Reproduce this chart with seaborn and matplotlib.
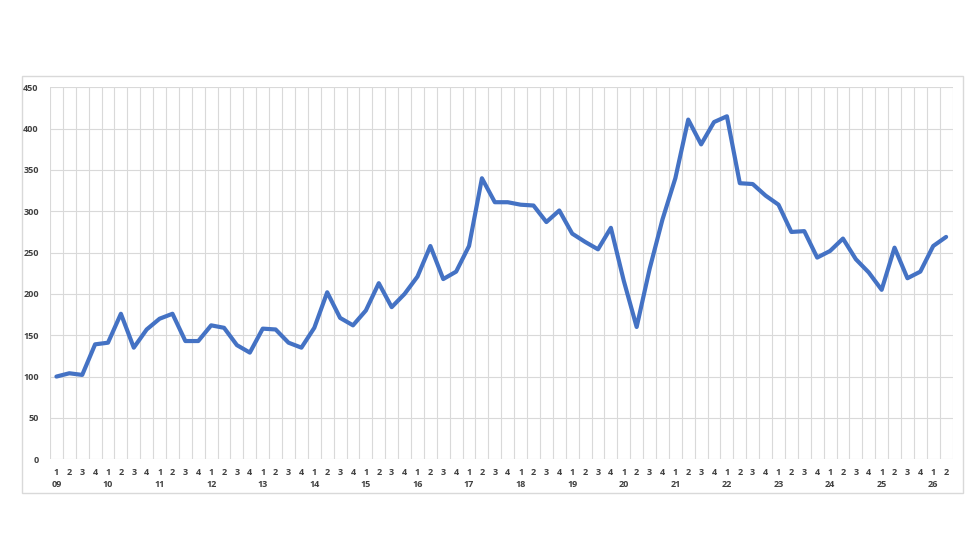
## Import Libraries
import numpy as np
import pandas as pd
import matplotlib
matplotlib.use("Agg")
import matplotlib.pyplot as plt
from matplotlib.patches import Rectangle
import seaborn as sns

## Data – quarterly index, 2009 Q1 to 2026 Q2
years = ["09", "10", "11", "12", "13", "14", "15", "16", "17",
         "18", "19", "20", "21", "22", "23", "24", "25", "26"]
quarters = [1, 2, 3, 4]
values = [100, 104, 102, 139,
          141, 176, 135, 157,
          170, 176, 143, 143,
          162, 159, 138, 129,
          158, 157, 141, 135,
          159, 202, 171, 162,
          180, 213, 184, 200,
          221, 258, 218, 227,
          258, 340, 311, 311,
          308, 307, 287, 301,
          273, 263, 254, 280,
          216, 160, 230, 290,
          340, 411, 381, 408,
          415, 334, 333, 319,
          308, 275, 276, 244,
          252, 267, 242, 226,
          205, 256, 219, 227,
          258, 269]

# tick labels: quarter number, with year under each Q1
labels = []
for y in years:
    for q in quarters:
        labels.append(f"{q}\n{y}" if q == 1 else str(q))
labels = labels[:len(values)]

df = pd.DataFrame({"idx": np.arange(len(values)), "value": values})

## Plot
sns.set_style("white")
plt.rcParams["font.family"] = ["Open Sans", "DejaVu Sans"]

fig = plt.figure(figsize=(9.8, 5.6), dpi=100)
ax = fig.add_axes([0.051, 0.180, 0.921, 0.664])

# outer chart border
fig.patches.append(Rectangle((0.0224, 0.1196), 0.960, 0.745, transform=fig.transFigure,
                             fill=False, edgecolor="#d9d9d9", linewidth=1))

sns.lineplot(data=df, x="idx", y="value", ax=ax, color="#4472C4", linewidth=3)

ax.set_xlim(-0.5, len(values) - 0.5)
ax.set_ylim(0, 450)
ax.set_yticks(range(0, 451, 50))
ax.set_xticks(df["idx"])
ax.set_xticklabels(labels, fontsize=6.5, fontweight="bold", color="#404040",
                   linespacing=1.5)
ax.set_xticks(np.arange(-0.5, len(values), 1), minor=True)
ax.tick_params(axis="y", labelsize=6.5, labelcolor="#404040", length=0, pad=8)
ax.tick_params(axis="x", which="both", length=0, pad=6)
for t in ax.get_yticklabels():
    t.set_fontweight("bold")

ax.grid(axis="y", which="major", color="#d9d9d9", linewidth=0.8)
ax.grid(axis="x", which="minor", color="#d9d9d9", linewidth=0.8)
ax.grid(axis="x", which="major", visible=False)
ax.set_axisbelow(True)
for s in ax.spines.values():
    s.set_visible(False)
ax.set_xlabel("")
ax.set_ylabel("")

plt.savefig("out.png", dpi=100)
